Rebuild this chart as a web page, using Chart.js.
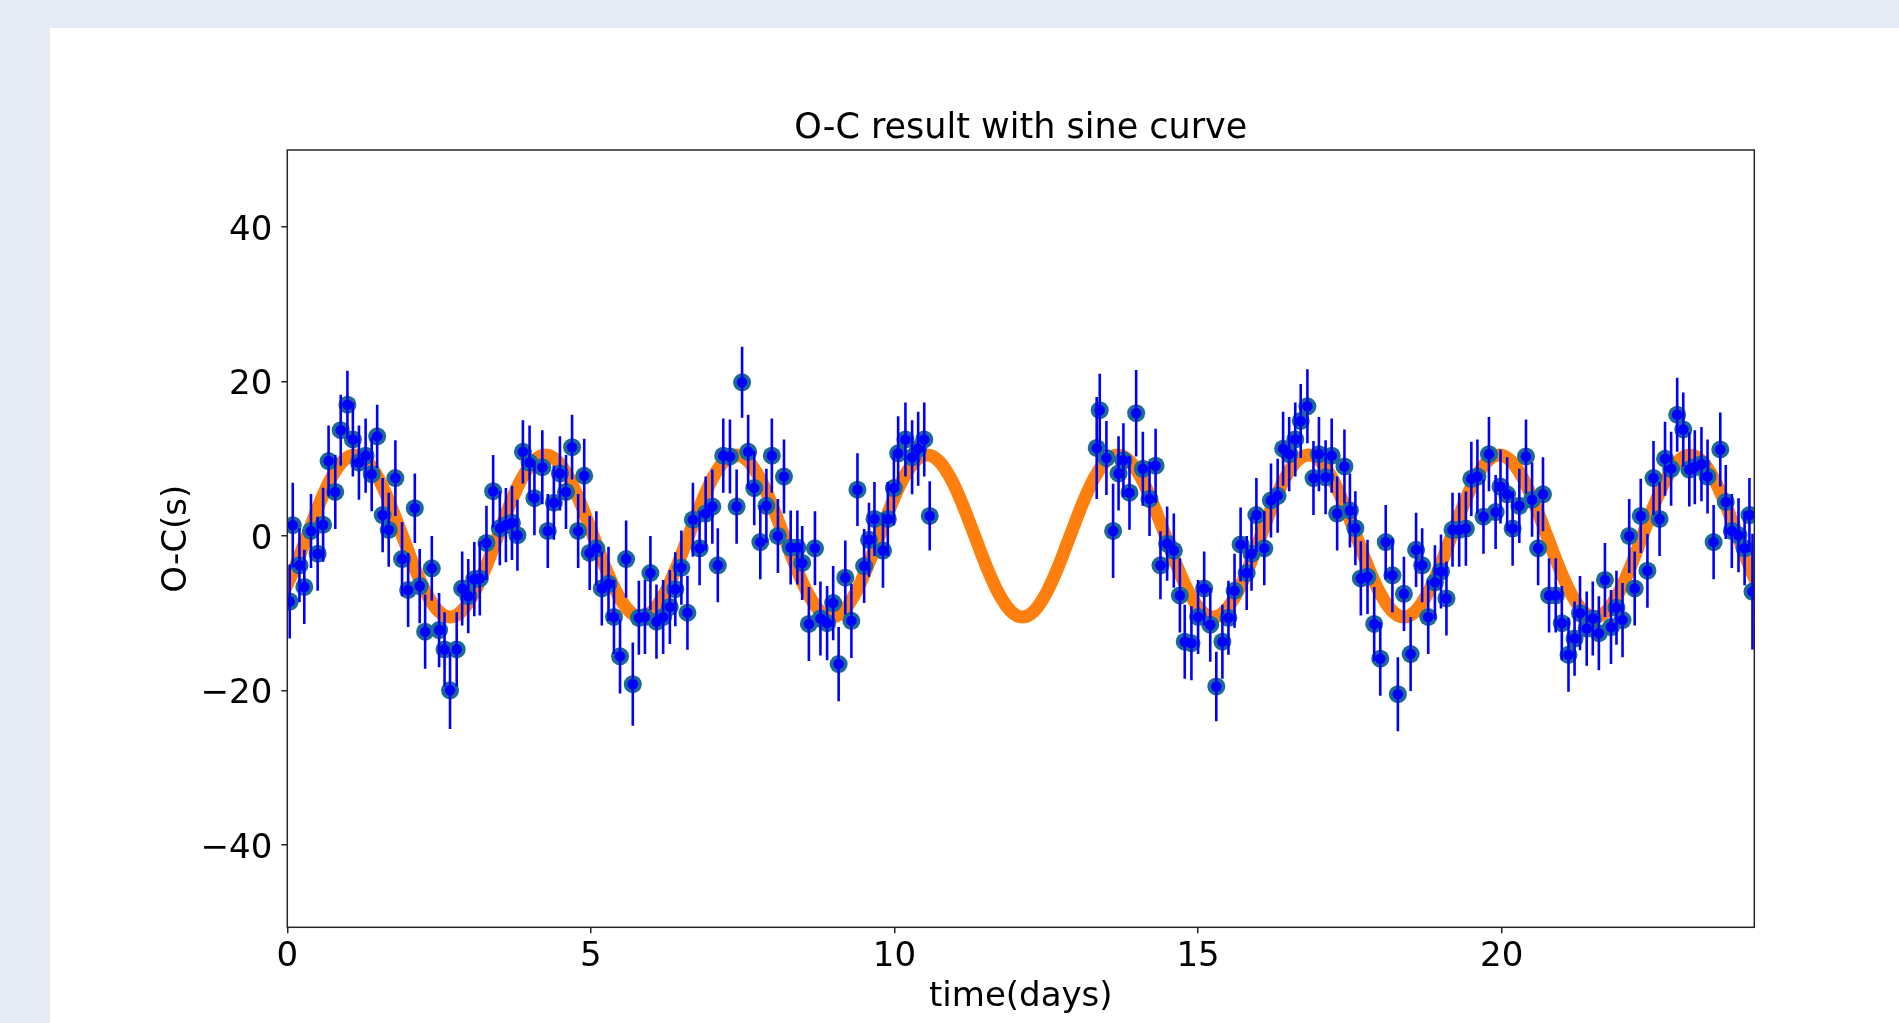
<!DOCTYPE html>
<html><head><meta charset="utf-8">
<script src="https://cdn.jsdelivr.net/npm/chart.js@4.4.0/dist/chart.umd.min.js"></script>
<style>
html,body{margin:0;padding:0;background:#e5ecf6;width:1899px;height:1023px;overflow:hidden;}
#panel{position:absolute;left:50px;top:28px;right:0;bottom:0;background:#fff;}
#c{position:absolute;left:0;top:0;}
</style></head><body>
<div id="panel"></div>
<canvas id="c" width="1899" height="1023"></canvas>
<script>
// Observed O-C points (time in days, O-C in seconds, error bar half-length)
const obsTimes = [
0.04,0.09,0.2,0.28,0.39,0.5,0.59,0.68,0.79,0.88,0.99,1.08,1.18,1.29,1.39,1.48,1.57,1.67,1.78,1.89,
1.99,2.1,2.18,2.27,2.38,2.5,2.59,2.68,2.79,2.88,2.98,3.08,3.17,3.28,3.39,3.5,3.6,3.7,3.79,3.88,3.99,4.07,
4.2,4.29,4.39,4.49,4.59,4.69,4.79,4.89,4.98,5.09,5.18,5.29,5.38,5.48,5.58,5.69,5.79,5.89,5.98,6.08,
6.19,6.3,6.39,6.49,6.59,6.68,6.79,6.89,7.0,7.09,7.18,7.29,7.4,7.49,7.59,7.69,7.79,7.89,7.98,
8.08,8.18,8.29,8.4,8.48,8.59,8.69,8.78,8.89,8.99,9.08,9.19,9.29,9.39,9.5,9.58,9.67,9.81,9.89,9.99,
10.06,10.18,10.29,10.39,10.49,10.58,
13.33,13.38,13.49,13.6,13.69,13.77,13.87,13.98,14.09,14.2,14.3,14.38,14.49,14.6,14.7,14.78,14.89,15.0,
15.1,15.2,15.3,15.4,15.5,15.6,15.7,15.8,15.88,15.96,
16.09,16.2,16.31,16.4,16.5,16.6,16.69,16.8,16.9,16.99,17.1,17.2,17.29,17.41,17.5,17.59,17.68,17.79,17.9,18.0,
18.09,18.2,18.29,18.39,18.5,18.59,18.69,18.79,18.9,19.0,19.09,19.19,19.3,19.41,19.5,19.6,19.7,19.79,19.9,19.98,
20.09,20.18,20.29,20.4,20.5,20.6,20.68,20.78,20.89,20.99,21.1,21.2,21.29,21.4,21.5,21.6,21.7,21.8,21.89,21.99,
22.1,22.19,22.29,22.4,22.5,22.6,22.69,22.79,22.89,22.99,23.09,23.18,23.29,23.39,23.49,23.6,23.69,23.79,23.9,24.0,
24.08,24.13];
const obsValues = [
-8.5,1.4,-3.8,-6.6,0.65,-2.3,1.45,9.7,5.7,13.7,17.0,12.5,9.5,10.4,8.0,12.9,2.7,0.8,7.5,-3.0,
-7.0,3.6,-6.5,-12.4,-4.2,-12.2,-14.7,-20.0,-14.7,-6.8,-7.8,-5.6,-5.5,-0.9,5.8,1.0,1.4,1.7,0.1,10.9,9.5,4.9,
8.9,0.65,4.3,8.1,5.7,11.5,0.65,7.8,-2.2,-1.6,-6.8,-6.2,-10.5,-15.6,-3.0,-19.2,-10.6,-10.5,-4.8,-11.1,
-10.5,-9.2,-6.9,-4.1,-9.95,2.1,-1.6,2.9,3.8,-3.8,10.4,10.3,3.8,19.9,10.9,6.2,-0.8,3.9,10.4,
0.0,7.7,-1.5,-1.5,-3.5,-11.4,-1.6,-10.7,-11.3,-8.7,-16.6,-5.4,-11.0,6.0,-3.9,-0.5,2.2,-1.9,2.2,6.2,
10.7,12.5,10.2,11.3,12.5,2.6,
11.4,16.3,10.1,0.65,8.1,9.8,5.6,15.9,8.7,4.8,9.1,-3.8,-1.0,-1.9,-7.7,-13.7,-13.9,-10.5,
-6.8,-11.5,-19.5,-13.7,-10.6,-7.1,-1.1,-4.8,-2.3,2.7,
-1.6,4.6,5.2,11.3,10.6,12.5,14.9,16.8,7.5,10.6,7.6,10.4,2.9,9.0,3.3,1.0,-5.5,-5.3,-11.4,-15.9,
-0.8,-5.1,-20.5,-7.5,-15.3,-1.8,-3.8,-10.5,-6.0,-4.6,-8.1,0.8,0.8,0.95,7.4,7.7,2.5,10.6,3.1,6.4,
5.4,0.95,3.9,10.3,4.7,-1.6,5.4,-7.7,-7.7,-11.3,-15.4,-13.3,-10.0,-12.0,-10.7,-12.6,-5.7,-11.8,-9.3,-10.9,
0.0,-6.8,2.6,-4.5,7.5,2.2,10.0,8.7,15.7,13.8,8.6,8.9,9.3,7.7,-0.8,11.2,4.4,0.65,0.1,-1.6,
2.7,-7.2];
const obsErrors = [
4.8,5.5,4.8,4.8,4.8,4.8,4.8,4.6,4.8,4.6,4.4,4.8,4.8,4.8,4.8,4.1,4.8,4.8,4.9,4.8,
4.8,4.5,4.8,4.8,4.2,4.8,4.8,5.0,4.8,4.8,4.8,4.8,4.8,4.8,4.7,4.8,4.8,4.8,4.6,4.1,4.8,4.8,
4.8,4.8,4.8,4.8,4.8,4.2,4.8,4.8,4.8,4.8,4.8,4.8,4.8,4.8,5.0,5.4,4.8,4.8,4.8,4.8,
4.8,4.8,4.8,4.8,4.8,4.8,4.8,4.8,4.8,4.8,4.8,4.8,4.8,4.6,4.8,4.8,4.8,4.8,4.8,
4.8,4.8,4.8,4.8,4.8,4.8,4.8,4.8,4.8,4.8,4.8,4.8,4.8,4.7,4.8,4.8,4.8,4.8,4.8,4.8,
4.8,4.8,4.8,4.8,4.8,4.5,
6.6,4.7,4.8,6.1,4.8,4.8,4.8,5.6,4.8,4.8,4.8,4.4,4.8,4.8,4.8,4.8,4.8,4.8,
4.8,4.8,4.5,4.8,4.8,4.8,4.8,4.8,4.8,4.8,
4.8,4.8,4.8,4.8,4.8,4.8,4.8,4.8,4.8,4.8,4.8,4.8,4.8,4.8,4.8,4.8,4.8,4.8,4.8,4.8,
4.8,4.8,4.8,4.8,4.8,4.8,4.8,4.8,4.8,4.8,4.8,4.8,4.8,4.8,4.8,4.8,4.8,4.8,4.8,4.8,
4.8,4.8,4.8,4.8,4.8,4.8,4.8,4.8,4.8,4.8,4.8,4.8,4.8,4.8,4.8,4.8,4.8,4.8,4.8,4.8,
4.8,4.8,4.8,4.8,4.8,4.8,4.8,4.8,4.8,4.8,4.8,4.8,4.8,4.8,4.8,4.8,4.8,4.8,4.8,4.8,
4.8,7.5];

// Fitted sine curve
const curveTimes = [
-0.068,0.129,
0.325,0.521,0.718,0.914,1.110,1.307,1.503,1.699,1.896,2.092,2.288,2.485,2.681,2.878,3.074,3.270,
3.467,3.663,3.860,4.056,4.252,4.449,4.645,4.841,5.038,5.234,5.430,5.627,5.823,6.020,6.216,6.412,
6.608,6.804,7.001,7.197,7.393,7.590,7.786,7.982,8.179,8.375,8.571,8.768,8.964,9.161,9.357,9.553,
9.750,9.946,10.143,10.339,10.535,10.732,10.928,11.124,11.321,11.517,11.713,11.910,12.106,12.303,12.499,12.695,
12.891,13.087,13.284,13.480,13.676,13.873,14.069,14.265,14.462,14.658,14.854,15.051,15.247,15.444,15.640,15.836,
16.033,16.229,16.426,16.622,16.818,17.015,17.211,17.407,17.604,17.800,17.996,18.193,18.389,18.586,18.782,18.978,
19.175,19.371,19.568,19.764,19.960,20.157,20.353,20.549,20.746,20.942,21.138,21.335,21.531,21.728,21.924,22.120,
22.316,22.512,22.709,22.905,23.101,23.298,23.494,23.690,23.887,24.083,24.279];
const curveValues = [
-7.42,-4.02,
0,4.02,7.42,9.70,10.5,9.70,7.42,4.02,0,-4.02,-7.42,-9.70,-10.5,-9.70,-7.42,-4.02,
0,4.02,7.42,9.70,10.5,9.70,7.42,4.02,0,-4.02,-7.42,-9.70,-10.5,-9.70,-7.42,-4.02,
0,4.02,7.42,9.70,10.5,9.70,7.42,4.02,0,-4.02,-7.42,-9.70,-10.5,-9.70,-7.42,-4.02,
0,4.02,7.42,9.70,10.5,9.70,7.42,4.02,0,-4.02,-7.42,-9.70,-10.5,-9.70,-7.42,-4.02,
0,4.02,7.42,9.70,10.5,9.70,7.42,4.02,0,-4.02,-7.42,-9.70,-10.5,-9.70,-7.42,-4.02,
0,4.02,7.42,9.70,10.5,9.70,7.42,4.02,0,-4.02,-7.42,-9.70,-10.5,-9.70,-7.42,-4.02,
0,4.02,7.42,9.70,10.5,9.70,7.42,4.02,0,-4.02,-7.42,-9.70,-10.5,-9.70,-7.42,-4.02,
0,4.02,7.42,9.70,10.5,9.70,7.42,4.02,0,-4.02,-7.42];

const xTickValues = [0, 5, 10, 15, 20];
const yTickValues = [-40, -20, 0, 20, 40];
const xRange = [0, 24.16];
const yRange = [-50.7, 50];
const titleText = 'O-C result with sine curve';
const xLabel = 'time(days)';
const yLabel = 'O-C(s)';

// Build datasets from the arrays
const pointData = obsTimes.map((t, i) => ({x: t, y: obsValues[i]}));
const barData = [];
obsTimes.forEach((t, i) => {
  barData.push({x: t, y: obsValues[i] - obsErrors[i]});
  barData.push({x: t, y: obsValues[i] + obsErrors[i]});
  barData.push({x: t, y: null});
});
const curveData = curveTimes.map((t, i) => ({x: t, y: curveValues[i]}));

Chart.defaults.font.family = "'DejaVu Sans', sans-serif";
Chart.defaults.color = '#000';

const framePlugin = {
  id: 'frame',
  afterDatasetsDraw(chart) {
    const {ctx, chartArea: a} = chart;
    ctx.save();
    ctx.strokeStyle = '#262626';
    ctx.lineWidth = 1.5;
    ctx.strokeRect(a.left, a.top, a.right - a.left, a.bottom - a.top);
    ctx.restore();
  }
};

const fmt = v => (v < 0 ? '\u2212' + Math.abs(v) : String(v));

new Chart(document.getElementById('c'), {
  type: 'scatter',
  data: {
    datasets: [
      {type: 'line', data: curveData, borderColor: '#ff7f0e', borderWidth: 13,
       pointRadius: 0, cubicInterpolationMode: 'monotone', fill: false, clip: 0, order: 4},
      {type: 'scatter', data: pointData, backgroundColor: '#1c6b92', borderWidth: 0,
       pointRadius: 9, clip: 0, order: 3},
      {type: 'line', data: barData, borderColor: '#0000ff', borderWidth: 2.6,
       pointRadius: 0, spanGaps: false, tension: 0, fill: false, clip: 0, order: 2},
      {type: 'scatter', data: pointData, backgroundColor: '#0000ff', borderWidth: 0,
       pointRadius: 5.3, clip: 0, order: 1}
    ]
  },
  options: {
    responsive: false,
    animation: false,
    events: [],
    layout: {padding: {left: 0, right: 144.7, top: 0, bottom: 0}},
    plugins: {
      legend: {display: false},
      tooltip: {enabled: false},
      title: {display: true, text: titleText, color: '#000', fullSize: false,
              font: {size: 35, weight: 'normal'}, padding: {top: 107.6, bottom: 0.4}}
    },
    scales: {
      x: {
        type: 'linear', position: 'bottom', min: xRange[0], max: xRange[1],
        afterBuildTicks: s => { s.ticks = xTickValues.map(v => ({value: v})); },
        afterFit: s => { s.height = 95.7; },
        ticks: {font: {size: 34}, color: '#000', padding: 3.5, maxRotation: 0, includeBounds: false,
                callback: v => fmt(v)},
        grid: {display: true, drawOnChartArea: false, drawTicks: true, tickLength: 6,
               color: '#262626', lineWidth: 1.5},
        border: {display: false},
        title: {display: true, text: xLabel, color: '#000', font: {size: 34}, padding: {top: 0, bottom: 5.8}}
      },
      y: {
        type: 'linear', position: 'left', min: yRange[0], max: yRange[1],
        afterBuildTicks: s => { s.ticks = yTickValues.map(v => ({value: v})); },
        afterFit: s => { s.width = 287.3; },
        ticks: {font: {size: 34}, color: '#000', padding: 9, labelOffset: 4, includeBounds: false,
                callback: v => fmt(v)},
        grid: {display: true, drawOnChartArea: false, drawTicks: true, tickLength: 6,
               color: '#262626', lineWidth: 1.5},
        border: {display: false},
        title: {display: true, text: yLabel, color: '#000', font: {size: 34}, padding: {top: 156.3, bottom: 0}}
      }
    }
  },
  plugins: [framePlugin]
});
</script>
</body></html>
